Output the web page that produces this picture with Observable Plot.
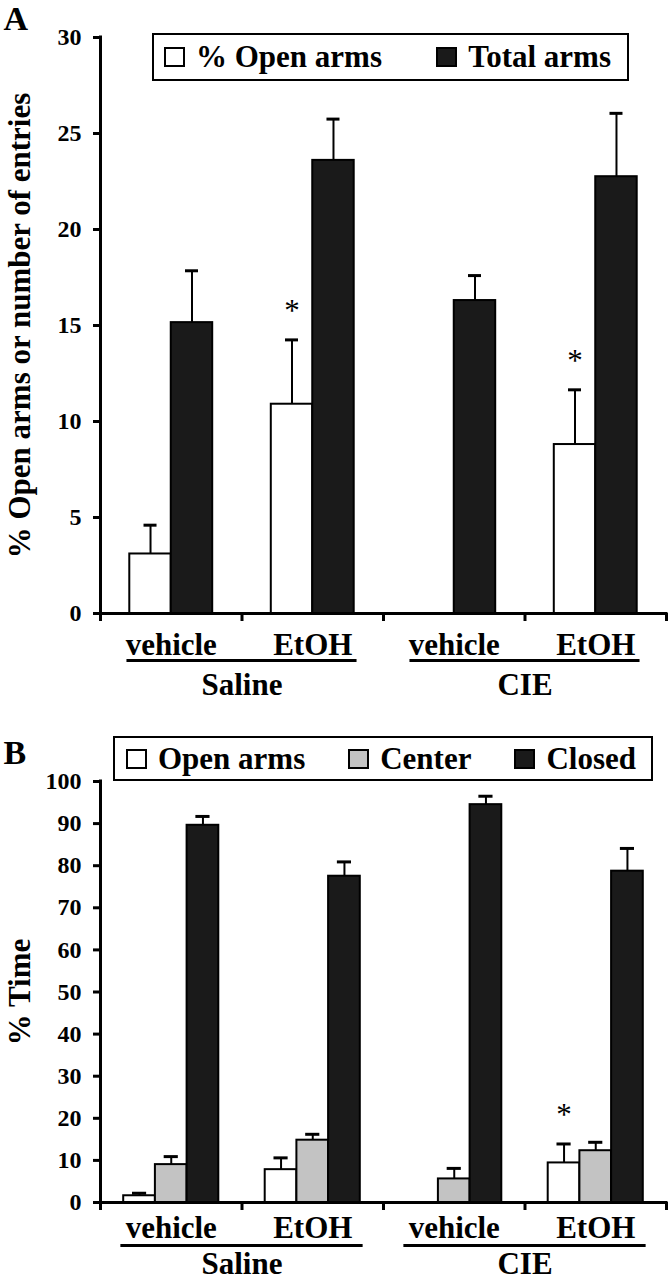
<!DOCTYPE html>
<html><head><meta charset="utf-8">
<script src="https://cdn.jsdelivr.net/npm/d3@7"></script>
<script src="https://cdn.jsdelivr.net/npm/@observablehq/plot@0.6"></script>
<style>
body{margin:0;background:#fff;}
.panel{position:relative;width:670px;}
.panel svg{display:block;}
.legend{position:absolute;display:flex;align-items:center;justify-content:space-between;box-sizing:border-box;border:2px solid #000;background:#fff;font-family:"Liberation Serif","Times New Roman",serif;font-weight:bold;font-size:31px;color:#000;white-space:nowrap;}
.item{display:flex;align-items:center;}
.sw{width:21px;height:20px;border:2px solid #000;box-sizing:border-box;margin-right:11px;}
</style></head><body>
<div id="wrap"></div>
<script>
// ---- data ----
const groups = ["Saline", "CIE"];
const treatments = ["vehicle", "EtOH", "vehicle", "EtOH"];

const seriesA = ["% Open arms", "Total arms"];
const fillsA = ["#ffffff", "#1a1a1a"];
const openArmsA = [3.1, 10.9, 0, 8.8];
const openArmsErrA = [1.5, 3.35, 0, 2.85];
const totalArmsA = [15.15, 23.6, 16.3, 22.75];
const totalArmsErrA = [2.7, 2.15, 1.3, 3.3];
const sigA = [false, true, false, true];
const yTicksA = [0, 5, 10, 15, 20, 25, 30];
const yLabelA = "% Open arms or number of entries";

const seriesB = ["Open arms", "Center", "Closed"];
const fillsB = ["#ffffff", "#c3c3c3", "#1a1a1a"];
const openB = [1.6, 7.8, 0, 9.4];
const openErrB = [0.6, 2.8, 0, 4.5];
const centerB = [9.0, 14.8, 5.6, 12.3];
const centerErrB = [1.9, 1.4, 2.5, 2.0];
const closedB = [89.6, 77.5, 94.5, 78.7];
const closedErrB = [2.1, 3.4, 2.0, 5.4];
const sigB = [false, false, false, true];
const yTicksB = [0, 10, 20, 30, 40, 50, 60, 70, 80, 90, 100];
const yLabelB = "% Time";

const FONT = '"Liberation Serif", "Times New Roman", serif';

function panel(o) {
  const n = o.series.length;
  const rows = [];
  for (let i = 0; i < 4; i++) for (let s = 0; s < n; s++) {
    const x1 = i + 0.5 + (s - n / 2) * o.w;
    rows.push({band: i, series: o.series[s], value: o.values[s][i], err: o.errs[s][i],
      x1, x2: x1 + o.w, xc: x1 + o.w / 2, fill: o.fills[s], sig: s === 0 && o.sig[i]});
  }
  const bandLabels = treatments.map((t, i) => ({x: i + 0.5, t}));
  const groupLabels = groups.map((g, k) => ({x: 2 * k + 1, g,
    x1: 2 * k + 0.5 - (n / 2) * o.w - 0.02, x2: 2 * k + 1.5 + (n / 2) * o.w + 0.02}));
  const errRows = rows.filter(d => d.err > 0);
  const yMax = o.yTicks[o.yTicks.length - 1];
  const div = document.createElement("div");
  div.className = "panel";
  const chart = Plot.plot({
    width: 670, height: o.height, marginLeft: 100, marginRight: 4,
    marginTop: o.marginTop, marginBottom: o.marginBottom,
    style: {fontFamily: FONT, fontWeight: "bold", color: "#000", background: "#fff", overflow: "visible"},
    x: {domain: [0, 4], axis: null},
    y: {domain: [0, yMax], axis: null},
    color: {type: "identity"},
    marks: [
      Plot.rect(rows, {x1: "x1", x2: "x2", y1: 0, y2: "value", fill: "fill", stroke: "#000", strokeWidth: 2}),
      Plot.ruleX(errRows, {x: "xc", y1: "value", y2: d => d.value + d.err, stroke: "#000", strokeWidth: 2}),
      Plot.ruleY(errRows, {y: d => d.value + d.err, x1: d => d.xc - o.cap / 2, x2: d => d.xc + o.cap / 2, stroke: "#000", strokeWidth: 3}),
      Plot.text(rows.filter(d => d.sig), {x: "xc", y: d => d.value + d.err, text: () => "*", fontSize: 31, fontWeight: "normal", lineAnchor: "middle", dy: -29}),
      Plot.ruleX([0], {y1: 0, y2: yMax, stroke: "#000", strokeWidth: 3, strokeLinecap: "square"}),
      Plot.ruleY([0], {x1: 0, x2: 4, stroke: "#000", strokeWidth: 3, strokeLinecap: "square"}),
      Plot.axisY({ticks: o.yTicks, tickSize: 7, tickPadding: 12, fontSize: 24, strokeWidth: 3, label: null}),
      Plot.axisX({ticks: [0, 1, 2, 3, 4], tickFormat: () => "", tickSize: 8, strokeWidth: 3, label: null}),
      Plot.text([o.yLabel], {frameAnchor: "left", rotate: -90, dx: -80, fontSize: 31, textAnchor: "middle", lineAnchor: "middle"}),
      Plot.text(bandLabels, {x: "x", y: 0, text: "t", fontSize: 31, lineAnchor: "bottom", dy: o.labelDy}),
      Plot.ruleY(groupLabels, {x1: "x1", x2: "x2", y: 0, dy: o.lineDy, stroke: "#000", strokeWidth: 3}),
      Plot.text(groupLabels, {x: "x", y: 0, text: "g", fontSize: 31, lineAnchor: "bottom", dy: o.groupDy}),
      Plot.text([o.letter], {frameAnchor: "top-left", dx: -97, dy: o.letterDy, fontSize: 34, textAnchor: "start", lineAnchor: "bottom"})
    ]
  });
  div.appendChild(chart);
  const leg = document.createElement("div");
  leg.className = "legend";
  Object.assign(leg.style, o.legendStyle);
  o.series.forEach((s, i) => {
    const it = document.createElement("div");
    it.className = "item";
    const sw = document.createElement("div");
    sw.className = "sw";
    sw.style.background = o.fills[i];
    it.appendChild(sw);
    it.appendChild(document.createTextNode(s));
    leg.appendChild(it);
  });
  div.appendChild(leg);
  return div;
}

const wrap = document.getElementById("wrap");
wrap.appendChild(panel({
  letter: "A", series: seriesA, fills: fillsA,
  values: [openArmsA, totalArmsA], errs: [openArmsErrA, totalArmsErrA], sig: sigA,
  yTicks: yTicksA, yLabel: yLabelA, w: 0.293, cap: 0.092,
  height: 700, marginTop: 37, marginBottom: 87,
  labelDy: 41, lineDy: 47, groupDy: 81, letterDy: -8,
  legendStyle: {left: "152px", top: "33px", width: "477px", height: "48px", padding: "0 16px 0 10px"}
}));
wrap.appendChild(panel({
  letter: "B", series: seriesB, fills: fillsB,
  values: [openB, centerB, closedB], errs: [openErrB, centerErrB, closedErrB], sig: sigB,
  yTicks: yTicksB, yLabel: yLabelB, w: 0.224, cap: 0.1,
  height: 580, marginTop: 81, marginBottom: 78,
  labelDy: 35, lineDy: 43, groupDy: 71, letterDy: -18,
  legendStyle: {left: "113px", top: "36px", width: "540px", height: "45px", padding: "0 15px 0 11px"}
}));
</script>
</body></html>
